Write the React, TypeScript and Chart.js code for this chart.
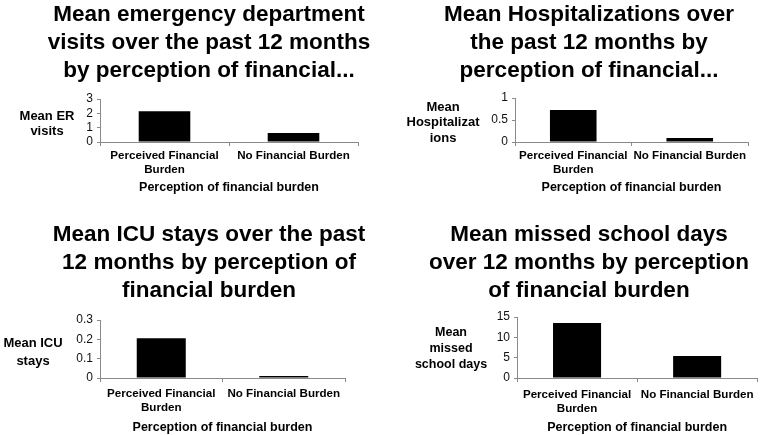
import React, { useEffect, useRef } from "react";
import { Chart, registerables } from "chart.js";

Chart.register(...registerables);

const categories: string[][] = [["Perceived Financial", "Burden"], ["No Financial Burden"]];
const xAxisTitle = "Perception of financial burden";

const erValues = [2.15, 0.62];
const hospValues = [0.73, 0.09];
const icuValues = [0.205, 0.01];
const schoolValues = [13.5, 5.4];

const erTitle = ["Mean emergency department", "visits over the past 12 months", "by perception of financial..."];
const hospTitle = ["Mean Hospitalizations over", "the past 12 months by", "perception of financial..."];
const icuTitle = ["Mean ICU stays over the past", "12 months by perception of", "financial burden"];
const schoolTitle = ["Mean missed school days", "over 12 months by perception", "of financial burden"];

const erYTitle = ["Mean ER", "visits"];
const hospYTitle = ["Mean", "Hospitalizat", "ions"];
const icuYTitle = ["Mean ICU", "stays"];
const schoolYTitle = ["Mean", "missed", "school days"];

const erScale = { max: 3, step: 1 };
const hospScale = { max: 1, step: 0.5 };
const icuScale = { max: 0.3, step: 0.1 };
const schoolScale = { max: 15, step: 5 };

const FONT = "'Liberation Sans', Arial, Helvetica, sans-serif";

type PanelCfg = {
  values: number[];
  title: string[];
  yTitle: string[];
  scale: { max: number; step: number };
  x: number;
  y: number;
  w: number;
  h: number;
  area: { left: number; right: number; top: number; bottom: number };
  yTitleX: number;
  yTitleY: number;
  yTitleLH: number;
  yTitleSize: number;
  titleY: number;
  tickPad: number;
};

const panelText = {
  id: "panelText",
  afterDraw(chart: any, _args: any, opts: any) {
    const ctx = chart.ctx;
    ctx.save();
    ctx.fillStyle = "#000";
    ctx.textAlign = "center";
    ctx.textBaseline = "middle";
    ctx.font = `bold 22.5px ${FONT}`;
    opts.title.forEach((line: string, i: number) => {
      ctx.fillText(line, opts.titleX, opts.titleY + i * opts.titleLH);
    });
    ctx.font = `bold ${opts.yTitleSize}px ${FONT}`;
    opts.yTitle.forEach((line: string, i: number) => {
      ctx.fillText(line, opts.yTitleX, opts.yTitleY + i * opts.yTitleLH);
    });
    ctx.restore();
  },
};

function Panel({ cfg }: { cfg: PanelCfg }) {
  const ref = useRef<HTMLCanvasElement>(null);
  useEffect(() => {
    if (!ref.current) return;
    const a = cfg.area;
    const chart = new Chart(ref.current, {
      type: "bar",
      data: {
        labels: categories,
        datasets: [
          {
            data: cfg.values,
            backgroundColor: "#000",
            borderWidth: 0,
            barPercentage: 0.4,
            categoryPercentage: 1,
          },
        ],
      },
      options: {
        animation: false,
        responsive: false,
        layout: { padding: { left: 0, right: cfg.w - a.right, top: a.top, bottom: 0 } },
        plugins: {
          legend: { display: false },
          tooltip: { enabled: false },
          panelText: {
            title: cfg.title,
            titleX: 209,
            titleY: cfg.titleY,
            titleLH: 28,
            yTitle: cfg.yTitle,
            yTitleX: cfg.yTitleX,
            yTitleY: cfg.yTitleY,
            yTitleLH: cfg.yTitleLH,
            yTitleSize: cfg.yTitleSize,
          },
        } as any,
        scales: {
          x: {
            offset: true,
            grid: {
              offset: true,
              drawOnChartArea: false,
              drawTicks: true,
              tickLength: 4,
              color: "#8a8a8a",
            },
            border: { color: "#8a8a8a", width: 1 },
            ticks: {
              color: "#000",
              padding: cfg.tickPad,
              maxRotation: 0,
              autoSkip: false,
              font: { family: FONT, size: 11.6, weight: "bold", lineHeight: 1.2 },
            },
            title: {
              display: true,
              text: xAxisTitle,
              color: "#000",
              font: { family: FONT, size: 12.5, weight: "bold", lineHeight: 1.2 },
              padding: { top: 0, bottom: cfg.h - a.bottom - (cfg.h === 217 ? 46 : 50) - 7.5 },
            },
            afterFit: (s: any) => {
              s.height = cfg.h - a.bottom;
            },
          },
          y: {
            min: 0,
            max: cfg.scale.max,
            grid: {
              drawOnChartArea: false,
              drawTicks: true,
              tickLength: 3,
              color: "#8a8a8a",
            },
            border: { color: "#8a8a8a", width: 1 },
            ticks: {
              stepSize: cfg.scale.step,
              autoSkip: false,
              color: "#111",
              padding: 4,
              font: { family: FONT, size: 12 },
              callback: (v: any) => String(Math.round(Number(v) * 1000) / 1000),
            },
            afterFit: (s: any) => {
              s.width = a.left;
            },
          },
        },
      },
      plugins: [panelText],
    });
    return () => chart.destroy();
  }, []);
  return (
    <canvas
      ref={ref}
      width={cfg.w}
      height={cfg.h}
      style={{ position: "absolute", left: cfg.x, top: cfg.y, width: cfg.w, height: cfg.h }}
    />
  );
}

const panels: PanelCfg[] = [
  {
    values: erValues, title: erTitle, yTitle: erYTitle, scale: erScale,
    x: 0, y: 0, w: 380, h: 217,
    area: { left: 100, right: 358, top: 99, bottom: 142 },
    yTitleX: 47, yTitleY: 116, yTitleLH: 15, yTitleSize: 13, titleY: 15, tickPad: 3,
  },
  {
    values: hospValues, title: hospTitle, yTitle: hospYTitle, scale: hospScale,
    x: 380, y: 0, w: 380, h: 217,
    area: { left: 135, right: 368, top: 98, bottom: 142 },
    yTitleX: 63, yTitleY: 107, yTitleLH: 15.5, yTitleSize: 13, titleY: 15, tickPad: 3,
  },
  {
    values: icuValues, title: icuTitle, yTitle: icuYTitle, scale: icuScale,
    x: 0, y: 217, w: 380, h: 218,
    area: { left: 100, right: 345, top: 103, bottom: 161 },
    yTitleX: 33, yTitleY: 126, yTitleLH: 18.5, yTitleSize: 13, titleY: 18, tickPad: 5,
  },
  {
    values: schoolValues, title: schoolTitle, yTitle: schoolYTitle, scale: schoolScale,
    x: 380, y: 217, w: 380, h: 218,
    area: { left: 137, right: 378, top: 100, bottom: 161 },
    yTitleX: 71, yTitleY: 116, yTitleLH: 16, yTitleSize: 12.5, titleY: 18, tickPad: 6,
  },
];

export default function App() {
  return (
    <div style={{ position: "absolute", left: 0, top: 0, width: 760, height: 435, background: "#fff" }}>
      {panels.map((p, i) => (
        <Panel key={i} cfg={p} />
      ))}
    </div>
  );
}
